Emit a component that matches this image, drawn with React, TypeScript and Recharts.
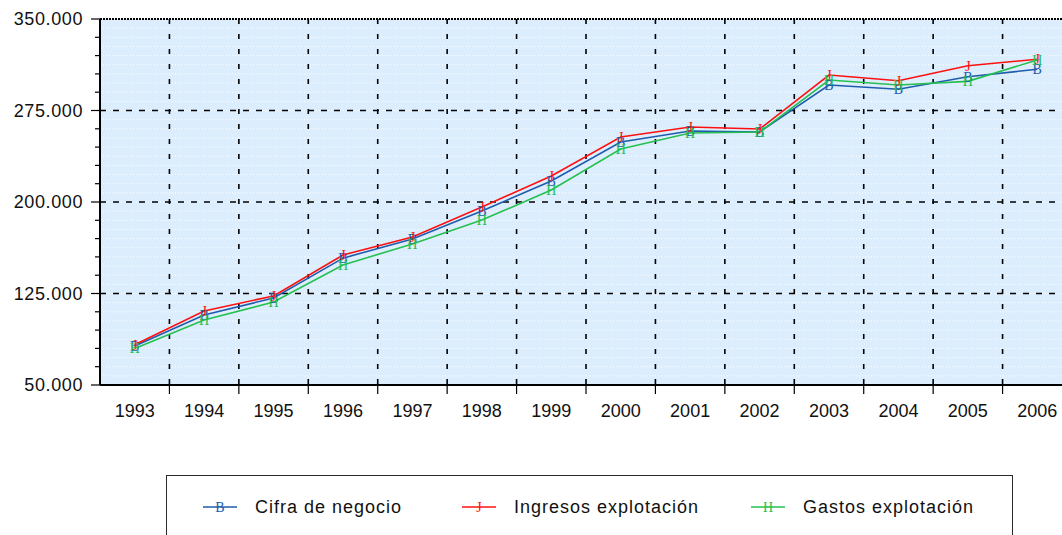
import React from 'react';
import { LineChart, Line, XAxis, YAxis, CartesianGrid, ReferenceLine } from 'recharts';

const years = [1993, 1994, 1995, 1996, 1997, 1998, 1999, 2000, 2001, 2002, 2003, 2004, 2005, 2006];
const cifraNegocio = [82000, 107400, 121300, 154000, 169700, 192600, 217200, 249200, 258200, 257400, 295900, 292400, 302700, 308800];
const ingresosExplotacion = [83000, 110700, 123000, 156600, 171300, 195900, 221300, 253300, 261500, 259800, 304100, 299400, 311700, 317000];
const gastosExplotacion = [80000, 103300, 118000, 148400, 165600, 185200, 209800, 243400, 256600, 257400, 300000, 295900, 298900, 316400];

const yMajorTicks = [50000, 125000, 200000, 275000, 350000];
const yMajorGrid = [125000, 200000, 275000];
const yMinorStep = 15000;
const yGridStep = 7500;
const yMin = 50000;
const yMax = 350000;

const seriesNames = ['Cifra de negocio', 'Ingresos explotación', 'Gastos explotación'];
const seriesKeys = ['cifra', 'ingresos', 'gastos'];
const seriesColors = ['#1F5CAD', '#FF1010', '#25C04F'];
const seriesGlyphs = ['B', 'J', 'H'];

const data = years.map((year, i) => ({
  year,
  cifra: cifraNegocio[i],
  ingresos: ingresosExplotacion[i],
  gastos: gastosExplotacion[i],
}));

const yTicks: number[] = [];
for (let v = yMin; v <= yMax; v += yMinorStep) yTicks.push(v);
const yGridValues: number[] = [];
for (let v = yMin + yGridStep; v < yMax; v += yGridStep) yGridValues.push(v);
const xBoundaries = years.slice(0, -1).map((y) => y + 0.5);
const xTicks = [...years, ...xBoundaries];

const FONT = '"Liberation Sans", Arial, sans-serif';
const SERIF = '"Liberation Serif", "DejaVu Serif", serif';

const fmt = (v: number) => (v / 1000).toFixed(3);

const YTick = (props: any) => {
  const { x, y, payload } = props;
  const v = payload.value as number;
  const major = yMajorTicks.includes(v);
  return (
    <g>
      <line x1={major ? x : x + 4} x2={x + 9} y1={y} y2={y} stroke="#000" strokeWidth={1.2} />
      {major && (
        <text x={x - 8} y={y} dy="0.36em" textAnchor="end" fontFamily={FONT} fontSize={18} letterSpacing={0.6} fill="#111">
          {fmt(v)}
        </text>
      )}
    </g>
  );
};

const XTick = (props: any) => {
  const { x, y, payload } = props;
  const v = payload.value as number;
  const isYear = Number.isInteger(v);
  return (
    <g>
      {!isYear && <line x1={x} x2={x} y1={y - 8} y2={y + 1} stroke="#000" strokeWidth={1.2} />}
      {isYear && (
        <text x={x} y={y + 24} textAnchor="middle" fontFamily={FONT} fontSize={18} fill="#111">
          {v}
        </text>
      )}
    </g>
  );
};

const makeDot = (glyph: string, color: string) => (props: any) => {
  const { cx, cy, index } = props;
  return (
    <text key={`${glyph}-${index}`} x={cx} y={cy} dy="0.36em" textAnchor="middle" fontFamily={SERIF} fontSize={14} fill={color}>
      {glyph}
    </text>
  );
};

const legendLeft = [203, 462, 751];

export default function App() {
  return (
    <div style={{ position: 'absolute', left: 0, top: 0, width: 1062, height: 535, overflow: 'hidden', background: '#fff' }}>
      <LineChart width={1080} height={470} data={data} margin={{ top: 19, right: 8, bottom: 0, left: 0 }}>
        <CartesianGrid
          vertical={false}
          horizontalValues={yGridValues}
          fill="#DCEDFD"
          stroke="#FFFFFF"
          strokeDasharray="1 2"
          strokeWidth={1}
        />
        <CartesianGrid
          vertical={false}
          horizontalValues={yMajorGrid}
          stroke="#000"
          strokeDasharray="6 7"
          strokeWidth={1.6}
        />
        <CartesianGrid
          horizontal={false}
          verticalValues={xBoundaries}
          stroke="#000"
          strokeDasharray="5 10"
          strokeWidth={1.6}
        />
        <ReferenceLine y={350000} stroke="#000" strokeDasharray="2 1" strokeWidth={2} />
        <XAxis
          dataKey="year"
          type="number"
          domain={[1992.5, 2006.5]}
          ticks={xTicks}
          interval={0}
          allowDecimals
          height={85}
          tickSize={8}
          tickMargin={0}
          tickLine={false}
          tick={<XTick />}
          axisLine={{ stroke: '#000', strokeWidth: 2 }}
        />
        <YAxis
          type="number"
          domain={[yMin, yMax]}
          ticks={yTicks}
          interval={0}
          width={100}
          tickSize={9}
          tickMargin={0}
          tickLine={false}
          tick={<YTick />}
          axisLine={{ stroke: '#000', strokeWidth: 2 }}
        />
        {seriesKeys.map((k, i) => (
          <Line
            key={k}
            type="linear"
            dataKey={k}
            name={seriesNames[i]}
            stroke={seriesColors[i]}
            strokeWidth={1.6}
            dot={makeDot(seriesGlyphs[i], seriesColors[i])}
            activeDot={false}
            isAnimationActive={false}
          />
        ))}
      </LineChart>
      <div
        style={{
          position: 'absolute',
          left: 166,
          top: 475,
          width: 845,
          height: 80,
          border: '1.5px solid #2a2a2a',
          background: '#fff',
        }}
      />
      <svg style={{ position: 'absolute', left: 0, top: 0 }} width={1062} height={535}>
        {seriesNames.map((name, i) => (
          <g key={name}>
            <line x1={legendLeft[i]} x2={legendLeft[i] + 34} y1={507} y2={507} stroke={seriesColors[i]} strokeWidth={1.4} />
            <text x={legendLeft[i] + 17} y={507} dy="0.36em" textAnchor="middle" fontFamily={SERIF} fontSize={14} fill={seriesColors[i]}>
              {seriesGlyphs[i]}
            </text>
            <text x={legendLeft[i] + 52} y={507} dy="0.36em" fontFamily={FONT} fontSize={18} letterSpacing={1} fill="#111">
              {name}
            </text>
          </g>
        ))}
      </svg>
    </div>
  );
}
